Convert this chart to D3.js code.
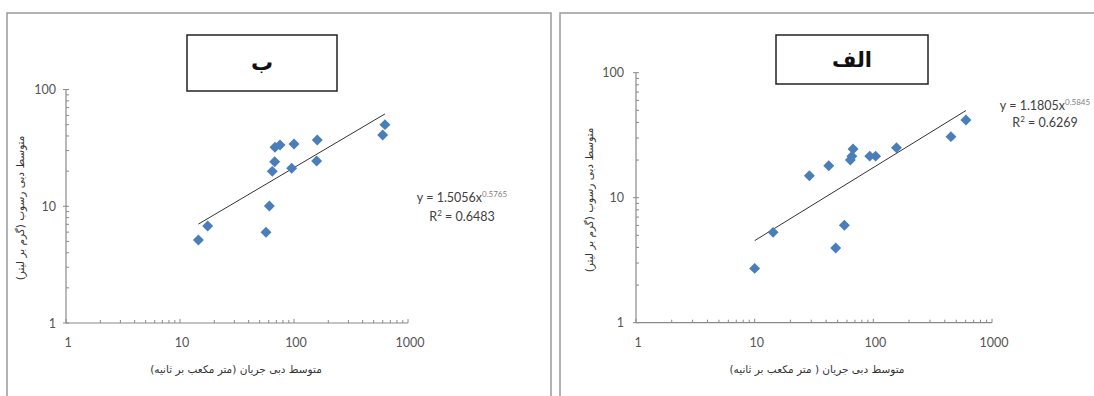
<!DOCTYPE html>
<html><head><meta charset="utf-8">
<script src="https://cdn.jsdelivr.net/npm/d3@7"></script>
<style>body{margin:0;background:#fff} svg{display:block}</style>
</head><body>
<svg id="c" width="1094" height="396"></svg>
<script>
// ---- data ----
const xTickLabels = ["1", "10", "100", "1000"];
const yTickLabels = ["1", "10", "100"];
const panelTitles = ["ب", "الف"];
const yAxisTitles = ["متوسط دبی رسوب (گرم بر لیتر)", "متوسط دبی رسوب (گرم بر لیتر)"];
const xAxisTitles = ["متوسط دبی جریان (متر مکعب بر ثانیه)", "متوسط دبی  جریان ( متر مکعب بر ثانیه)"];

// panel ب (left)
const flowB = [14.5, 17.5, 56.8, 60.8, 64.5, 67.7, 68.1, 75.4, 95.4, 100, 160, 158, 628, 600];
const sedB  = [5.14, 6.78, 5.99, 10.06, 19.9, 24.1, 32.0, 33.5, 21.2, 34.2, 37.0, 24.4, 50.0, 40.8];
// panel الف (right)
const flowA = [10.0, 14.3, 28.9, 42.1, 48.2, 57.0, 67.5, 64.0, 66.0, 93.3, 104.5, 156.7, 451, 603];
const sedA  = [2.72, 5.28, 15.0, 18.0, 3.96, 6.01, 24.5, 20.0, 21.5, 21.5, 21.5, 25.1, 30.8, 41.8];

// power-law fits  y = a x^b   [a, b]
const fitB = [1.5056, 0.5765];
const fitA = [1.1805, 0.5845];
const r2Values = ["0.6483", "0.6269"];

// ---- layout ----
const svg = d3.select("#c");
const panels = [
  { border: [7, 13, 544, 400], x: [66, 408], y: [323, 89.5], xs: flowB, ys: sedB, fit: fitB, r2: r2Values[0],
    title: panelTitles[0], box: [187, 35, 150, 56], titleSize: 22,
    eq: [462, 202, 221], yTitle: yAxisTitles[0], yTitlePos: [21, 208], xTitle: xAxisTitles[0], xTitlePos: [236, 373], yLabRight: 56 },
  { border: [560, 13, 600, 400], x: [636, 992], y: [322.7, 72.7], xs: flowA, ys: sedA, fit: fitA, r2: r2Values[1],
    title: panelTitles[1], box: [776, 35, 152, 49], titleSize: 21,
    eq: [1045, 110, 127], yTitle: yAxisTitles[1], yTitlePos: [590, 200], xTitle: xAxisTitles[1], xTitlePos: [817, 373], yLabRight: 624 }
];

const axisColor = "#8a8a8a";
const tickFont = "Lato, 'Liberation Sans', sans-serif";
const arFont = "'DejaVu Sans', sans-serif";

panels.forEach(p => {
  const g = svg.append("g");
  // panel border
  g.append("rect").attr("x", p.border[0]).attr("y", p.border[1])
    .attr("width", p.border[2]).attr("height", p.border[3])
    .attr("fill", "none").attr("stroke", "#9a9a9a").attr("stroke-width", 1.5);

  const x = d3.scaleLog().domain([1, 1000]).range(p.x);
  const y = d3.scaleLog().domain([1, 100]).range(p.y);

  // axes lines
  g.append("line").attr("x1", x(1)).attr("x2", x(1000)).attr("y1", y(1)).attr("y2", y(1))
    .attr("stroke", axisColor).attr("stroke-width", 1.2);
  g.append("line").attr("x1", x(1)).attr("x2", x(1)).attr("y1", y(1)).attr("y2", y(100))
    .attr("stroke", axisColor).attr("stroke-width", 1.2);

  // ticks (inside)
  x.ticks().forEach(t => {
    const major = Math.abs(Math.log10(t) - Math.round(Math.log10(t))) < 1e-9;
    g.append("line").attr("x1", x(t)).attr("x2", x(t)).attr("y1", y(1)).attr("y2", y(1) - (major ? 4 : 3))
      .attr("stroke", axisColor).attr("stroke-width", 1);
  });
  y.ticks().forEach(t => {
    const major = Math.abs(Math.log10(t) - Math.round(Math.log10(t))) < 1e-9;
    g.append("line").attr("x1", x(1) - (major ? 3 : 0)).attr("x2", x(1) + 3).attr("y1", y(t)).attr("y2", y(t))
      .attr("stroke", axisColor).attr("stroke-width", 1);
  });

  // tick labels
  xTickLabels.forEach(s => {
    g.append("text").attr("x", x(+s) + 2).attr("y", y(1) + 24).attr("text-anchor", "middle")
      .attr("font-family", tickFont).attr("font-size", 12.5).attr("fill", "#555").text(s);
  });
  yTickLabels.forEach(s => {
    g.append("text").attr("x", p.yLabRight).attr("y", y(+s) + 4.5).attr("text-anchor", "end")
      .attr("font-family", tickFont).attr("font-size", 12.5).attr("fill", "#555").text(s);
  });

  // trendline
  const xr = d3.extent(p.xs);
  const fx = v => p.fit[0] * Math.pow(v, p.fit[1]);
  g.append("path").datum(xr)
    .attr("d", d3.line().x(d => x(d)).y(d => y(fx(d))))
    .attr("stroke", "#333").attr("stroke-width", 1).attr("fill", "none");

  // markers (diamonds)
  const sym = d3.symbol().type(d3.symbolSquare).size(60);
  g.selectAll("path.pt").data(p.xs.map((v, i) => [v, p.ys[i]])).join("path")
    .attr("class", "pt")
    .attr("d", sym)
    .attr("transform", d => `translate(${x(d[0])},${y(d[1])}) rotate(45)`)
    .attr("fill", "#4a7ebb");

  // equation text
  const eq = g.append("text").attr("x", p.eq[0]).attr("y", p.eq[1]).attr("text-anchor", "middle")
    .attr("font-family", tickFont).attr("font-size", 12.5).attr("fill", "#404040");
  eq.append("tspan").text(`y = ${p.fit[0].toFixed(4)}x`);
  eq.append("tspan").attr("dy", -5).attr("font-size", 8).attr("fill", "#808080").text(p.fit[1].toFixed(4));
  const r = g.append("text").attr("x", p.eq[0]).attr("y", p.eq[2]).attr("text-anchor", "middle")
    .attr("font-family", tickFont).attr("font-size", 12.5).attr("fill", "#404040");
  r.append("tspan").text("R");
  r.append("tspan").attr("dy", -5).attr("font-size", 8).text("2");
  r.append("tspan").attr("dy", 5).text(` = ${p.r2}`);

  // title box
  g.append("rect").attr("x", p.box[0]).attr("y", p.box[1]).attr("width", p.box[2]).attr("height", p.box[3])
    .attr("fill", "#fff").attr("stroke", "#222").attr("stroke-width", 1.5);
  g.append("text").attr("x", p.box[0] + p.box[2] / 2).attr("y", p.box[1] + p.box[3] / 2 + 7)
    .attr("text-anchor", "middle").attr("font-family", arFont).attr("font-weight", "bold")
    .attr("font-size", p.titleSize).attr("fill", "#111").text(p.title);

  // axis titles
  g.append("text").attr("transform", `translate(${p.yTitlePos[0]},${p.yTitlePos[1]}) rotate(-90)`)
    .attr("text-anchor", "middle").attr("dominant-baseline", "middle")
    .attr("font-family", arFont).attr("font-size", 10.5).attr("fill", "#333").text(p.yTitle);
  g.append("text").attr("x", p.xTitlePos[0]).attr("y", p.xTitlePos[1])
    .attr("text-anchor", "middle").attr("font-family", arFont).attr("font-size", 10.5)
    .attr("fill", "#333").text(p.xTitle);
});
</script>
</body></html>
